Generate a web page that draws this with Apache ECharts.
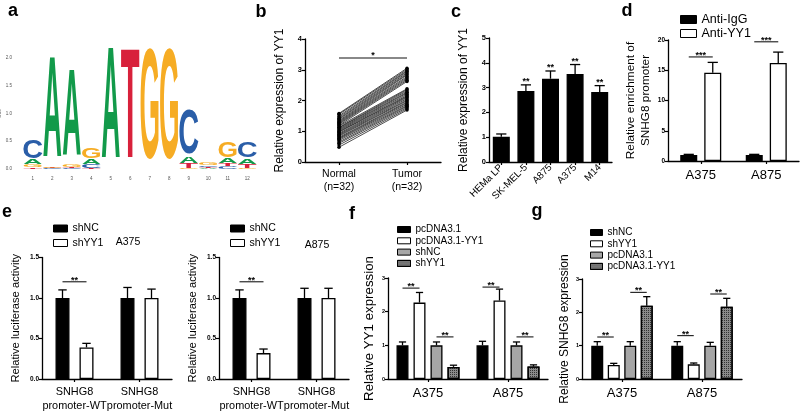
<!DOCTYPE html>
<html><head><meta charset="utf-8">
<script src="https://cdn.jsdelivr.net/npm/echarts@6/dist/echarts.min.js"></script>
<style>html,body{margin:0;padding:0;background:#fff}#c{width:800px;height:412px}</style>
</head><body><div id="c"></div>
<script>
// ---------------- data ----------------
// a: sequence logo (bits per letter at each position)
const logoPositions = ['1','2','3','4','5','6','7','8','9','10','11','12'];
const logoA = [0.08, 1.80, 1.55, 0.10, 1.98, 0.00, 0.00, 0.00, 0.11, 0.01, 0.09, 0.10];
const logoC = [0.33, 0.01, 0.02, 0.06, 0.00, 0.00, 0.00, 0.00, 0.80, 0.03, 0.05, 0.28];
const logoG = [0.05, 0.03, 0.04, 0.19, 0.00, 0.00, 1.96, 1.96, 0.01, 0.04, 0.27, 0.02];
const logoT = [0.03, 0.01, 0.02, 0.02, 0.00, 1.96, 0.00, 0.00, 0.09, 0.02, 0.05, 0.06];

// b: paired YY1 expression
const groupsB = ['Normal\n(n=32)', 'Tumor\n(n=32)'];
const normalYY1 = [1.58,1.55,1.50,1.46,1.42,1.39,1.35,1.32,1.29,1.26,1.23,1.19,1.17,1.13,1.11,1.08,1.05,1.02,0.99,0.97,0.93,0.90,0.87,0.84,0.80,0.77,0.74,0.70,0.65,0.61,0.55,0.48];
const tumorYY1  = [3.05,3.01,2.97,2.94,2.90,2.86,2.83,2.78,2.74,2.70,2.66,2.62,2.38,2.35,2.31,2.27,2.24,2.20,2.16,2.13,2.10,2.06,2.02,1.99,1.95,1.92,1.88,1.84,1.81,1.77,1.73,1.69];

// c: cell lines
const cellLines = ['HEMa LP', 'SK-MEL-5', 'A875', 'A375', 'M14'];
const cellYY1 = [1.02, 2.86, 3.36, 3.55, 2.82];
const cellYY1Err = [0.11, 0.25, 0.31, 0.38, 0.26];

// d: ChIP
const chipCells = ['A375', 'A875'];
const antiIgG = [1.0, 1.0];
const antiIgGErr = [0.1, 0.1];
const antiYY1 = [14.6, 16.2];
const antiYY1Err = [1.7, 1.8];

// e: luciferase
const lucCats = ['SNHG8\npromoter-WT', 'SNHG8\npromoter-Mut'];
const lucA375shNC = [1.0, 1.0];
const lucA375shNCErr = [0.10, 0.13];
const lucA375shYY1 = [0.39, 1.0];
const lucA375shYY1Err = [0.05, 0.11];
const lucA875shNC = [1.0, 1.0];
const lucA875shNCErr = [0.10, 0.12];
const lucA875shYY1 = [0.32, 1.0];
const lucA875shYY1Err = [0.05, 0.12];

// f: YY1 expression
const fCells = ['A375', 'A875'];
const fPc = [1.0, 1.0];       const fPcErr = [0.10, 0.12];
const fPcYY1 = [2.27, 2.33];  const fPcYY1Err = [0.30, 0.34];
const fShNC = [1.0, 1.0];     const fShNCErr = [0.10, 0.10];
const fShYY1 = [0.36, 0.37];  const fShYY1Err = [0.05, 0.05];

// g: SNHG8 expression
const gCells = ['A375', 'A875'];
const gShNC = [1.0, 1.0];     const gShNCErr = [0.12, 0.12];
const gShYY1 = [0.42, 0.44];  const gShYY1Err = [0.05, 0.04];
const gPc = [1.0, 1.0];       const gPcErr = [0.12, 0.10];
const gPcYY1 = [2.20, 2.17];  const gPcYY1Err = [0.27, 0.25];

// significance: [catA, barA, catB, barB, y, text]
const sigB = [[0, 0, 1, 0, 3.38, '*']];
const sigD = [[0, 0, 0, 1, 17.2, '***'], [1, 0, 1, 1, 19.7, '***']];
const sigE1 = [[0, 0, 0, 1, 1.2, '**']];
const sigE2 = [[0, 0, 0, 1, 1.2, '**']];
const sigF = [[0, 0, 0, 1, 2.7, '**'], [0, 2, 0, 3, 1.25, '**'], [1, 0, 1, 1, 2.73, '**'], [1, 2, 1, 3, 1.25, '**']];
const sigG = [[0, 0, 0, 1, 1.26, '**'], [0, 2, 0, 3, 2.6, '**'], [1, 0, 1, 1, 1.3, '**'], [1, 2, 1, 3, 2.55, '**']];
const starsC = ['', '**', '**', '**', '**'];

// ---------------- styles ----------------
const SANS = "'Liberation Sans',Arial,sans-serif";
const LOGO_COLORS = {A: '#129a4a', C: '#2a5ea8', G: '#f6ac24', T: '#d8213b'};
const INK = {A: 0.70, C: 0.64, G: 0.70, T: 0.60};
const CAP = 0.70;
const PATTERN = {symbol: 'rect', symbolSize: 1, dashArrayX: [1, 1], dashArrayY: [1, 1], color: '#333'};

const grids = [
  {left: 23, top: 58, width: 234, height: 111},     // a
  {left: 305, top: 39, width: 136, height: 123},    // b
  {left: 489, top: 38, width: 123, height: 124},    // c
  {left: 668, top: 40, width: 131, height: 121},    // d
  {left: 42, top: 257.5, width: 130, height: 121.5},// e1
  {left: 219, top: 257.5, width: 130, height: 121.5},// e2
  {left: 388, top: 278, width: 160, height: 101},   // f
  {left: 582, top: 279, width: 160, height: 100}    // g
].map(g => Object.assign({containLabel: false, outerBoundsMode: 'none'}, g));

const AX_LINE = {show: true, lineStyle: {color: '#000', width: 1.3}};
function yVal(gi, min, max, interval, name, nameGap, nameSize, labelSize, fmt, extra) {
  return Object.assign({
    type: 'value', gridIndex: gi, min, max, interval,
    axisLine: AX_LINE,
    axisTick: {show: true, length: 3, lineStyle: {color: '#000', width: 1.2}},
    axisLabel: {fontSize: labelSize, fontWeight: 'bold', color: '#000', margin: 3, fontFamily: SANS, formatter: fmt},
    splitLine: {show: false},
    name, nameLocation: 'middle', nameRotate: 90, nameGap,
    nameTextStyle: {fontSize: nameSize, fontFamily: SANS, color: '#000', lineHeight: nameSize + 3.5}
  }, extra || {});
}
function xCat(gi, data, labelSize, margin, extra) {
  return Object.assign({
    type: 'category', gridIndex: gi, data,
    axisLine: AX_LINE,
    axisTick: {show: true, alignWithLabel: true, length: 3, lineStyle: {color: '#000', width: 1.2}},
    axisLabel: {fontSize: labelSize, color: '#000', margin, fontFamily: SANS, interval: 0, lineHeight: labelSize + 3},
    splitLine: {show: false}
  }, extra || {});
}

function bars(name, gi, data, color, bw, gapPx, decal) {
  const s = {
    type: 'bar', name, xAxisIndex: gi, yAxisIndex: gi, data,
    barWidth: bw, barGap: (gapPx / bw * 100) + '%',
    itemStyle: {color, borderColor: '#000', borderWidth: 1.3},
    silent: true, z: 2
  };
  if (decal) s.itemStyle.decal = decal;
  return s;
}
function errBars(gi, means, errs, idx, n, bw, gapPx) {
  return {
    type: 'custom', xAxisIndex: gi, yAxisIndex: gi, silent: true, z: 3,
    data: means.map((m, i) => [i, m, m + errs[i]]),
    renderItem(params, api) {
      const c = api.value(0);
      const p0 = api.coord([c, api.value(1)]);
      const p1 = api.coord([c, api.value(2)]);
      const x = p0[0] + (idx - (n - 1) / 2) * (bw + gapPx);
      const cap = bw * 0.6;
      return {type: 'group', children: [
        {type: 'line', shape: {x1: x, y1: p0[1], x2: x, y2: p1[1]}, style: {stroke: '#000', lineWidth: 1.3}},
        {type: 'line', shape: {x1: x - cap / 2, y1: p1[1], x2: x + cap / 2, y2: p1[1]}, style: {stroke: '#000', lineWidth: 1.3}}
      ]};
    }
  };
}
function sig(gi, items, n, bw, gapPx, opt) {
  opt = opt || {};
  return {
    type: 'custom', xAxisIndex: gi, yAxisIndex: gi, silent: true, z: 5,
    data: items.map(it => [it[0], it[4]]),
    renderItem(params, api) {
      const it = items[params.dataIndex];
      const step = bw + gapPx;
      const pa = api.coord([it[0], it[4]]);
      const pb = api.coord([it[2], it[4]]);
      const xa = pa[0] + (it[1] - (n - 1) / 2) * step - (opt.ext || 0);
      const xb = pb[0] + (it[3] - (n - 1) / 2) * step + (opt.ext || 0);
      return {type: 'group', children: [
        {type: 'line', shape: {x1: xa, y1: pa[1], x2: xb, y2: pa[1]}, style: {stroke: opt.color || '#000', lineWidth: opt.lw || 1}},
        {type: 'text', style: {text: it[5], x: (xa + xb) / 2, y: pa[1] + (opt.dy || 3), textAlign: 'center', textVerticalAlign: 'bottom', align: 'center', verticalAlign: 'bottom', font: 'bold ' + (opt.size || 9) + 'px ' + SANS, fill: '#000'}}
      ]};
    }
  };
}
function starText(gi, tops, texts) {
  return {
    type: 'custom', xAxisIndex: gi, yAxisIndex: gi, silent: true, z: 5,
    data: tops.map((t, i) => [i, t]),
    renderItem(params, api) {
      const p = api.coord([api.value(0), api.value(1)]);
      return {type: 'text', style: {text: texts[params.dataIndex], x: p[0], y: p[1] + 1, textAlign: 'center', textVerticalAlign: 'bottom', align: 'center', verticalAlign: 'bottom', font: 'bold 9px ' + SANS, fill: '#000'}};
    }
  };
}

// ----- logo items (stack letters smallest at bottom) -----
const logoItems = [];
logoPositions.forEach((p, i) => {
  const ls = [['A', logoA[i]], ['C', logoC[i]], ['G', logoG[i]], ['T', logoT[i]]].sort((a, b) => a[1] - b[1]);
  let base = 0;
  ls.forEach(([L, h]) => { if (h > 0) logoItems.push([i, base, h, L]); base += h; });
});
const logoSeries = {
  type: 'custom', xAxisIndex: 0, yAxisIndex: 0, silent: true,
  data: logoItems.map(it => [it[0], it[1] + it[2]]),
  renderItem(params, api) {
    const [ci, base, h, L] = logoItems[params.dataIndex];
    const bw = api.size([1, 0])[0] * 0.95;
    const c0 = api.coord([ci, base]);
    const c1 = api.coord([ci, base + h]);
    const hp = c0[1] - c1[1];
    if (hp < 0.3) return null;
    const F = 100;
    return {
      type: 'text', x: c0[0], y: (c0[1] + c1[1]) / 2,
      scaleX: bw / (INK[L] * F), scaleY: hp / (CAP * F),
      style: {text: L, x: 0, y: 0, font: 'bold ' + F + 'px ' + SANS, fill: LOGO_COLORS[L],
              textAlign: 'center', textVerticalAlign: 'middle', align: 'center', verticalAlign: 'middle'}
    };
  }
};

// ----- b paired lines -----
const pairSeries = normalYY1.map((v, i) => ({
  type: 'line', xAxisIndex: 1, yAxisIndex: 1, data: [v, tumorYY1[i]],
  symbol: 'circle', symbolSize: 3.5, itemStyle: {color: '#000'},
  lineStyle: {color: '#000', width: 0.7}, silent: true, z: 3
}));

const xAxes = [
  Object.assign(xCat(0, logoPositions, 4.5, 6), {axisLine: {show: false}, axisTick: {show: false},
    axisLabel: {fontSize: 4.5, color: '#555', margin: 7, fontFamily: SANS, interval: 0}}),
  xCat(1, groupsB, 10.5, 5),
  xCat(2, cellLines, 9.8, 4, {axisLabel: {fontSize: 9.8, color: '#000', margin: 4, fontFamily: SANS, interval: 0, rotate: 45}}),
  xCat(3, chipCells, 13, 6),
  xCat(4, lucCats, 10.9, 6),
  xCat(5, lucCats, 10.9, 6),
  xCat(6, fCells, 13, 6),
  xCat(7, gCells, 13, 6)
];
const f1 = v => v.toFixed(1);
const yAxes = [
  yVal(0, 0, 2, 0.5, 'Bits', 9, 4.5, 4.5, f1, {axisLine: {show: false}, axisTick: {show: false}, offset: 8,
    axisLabel: {fontSize: 4.5, color: '#555', margin: 3, fontFamily: SANS, formatter: f1},
    nameTextStyle: {fontSize: 5, color: '#555', fontFamily: SANS}}),
  yVal(1, 0, 4, 1, 'Relative expression of YY1', 18, 12, 7.5),
  yVal(2, 0, 5, 1, 'Relative expression of YY1', 18, 12, 7.5),
  yVal(3, 0, 20, 5, 'Relative enrichment of\nSNHG8 promoter', 14, 11.8, 6.5),
  yVal(4, 0, 1.5, 0.5, 'Relative luciferase activity', 19, 11.2, 6.5, f1),
  yVal(5, 0, 1.5, 0.5, 'Relative luciferase activity', 19, 11.2, 6.5, f1),
  yVal(6, 0, 3, 1, 'Relative YY1 expression', 9, 13.3, 5.5),
  yVal(7, 0, 3, 1, 'Relative SNHG8 expression', 9, 12, 5.5)
];

const series = [logoSeries].concat(pairSeries, [
  sig(1, sigB, 1, 0, 0, {color: '#888', lw: 2, dy: 2, size: 9}),
  // c
  bars('cells', 2, cellYY1, '#000', 17, 0),
  errBars(2, cellYY1, cellYY1Err, 0, 1, 17, 0),
  starText(2, cellYY1.map((m, i) => m + cellYY1Err[i]), starsC),
  // d
  bars('Anti-IgG', 3, antiIgG, '#000', 17, 7),
  bars('Anti-YY1', 3, antiYY1, '#fff', 17, 7),
  errBars(3, antiIgG, antiIgGErr, 0, 2, 17, 7),
  errBars(3, antiYY1, antiYY1Err, 1, 2, 17, 7),
  sig(3, sigD, 2, 17, 7),
  // e1
  bars('shNC', 4, lucA375shNC, '#000', 14, 10),
  bars('shYY1', 4, lucA375shYY1, '#fff', 14, 10),
  errBars(4, lucA375shNC, lucA375shNCErr, 0, 2, 14, 10),
  errBars(4, lucA375shYY1, lucA375shYY1Err, 1, 2, 14, 10),
  sig(4, sigE1, 2, 14, 10),
  // e2
  bars('shNC', 5, lucA875shNC, '#000', 14, 10),
  bars('shYY1', 5, lucA875shYY1, '#fff', 14, 10),
  errBars(5, lucA875shNC, lucA875shNCErr, 0, 2, 14, 10),
  errBars(5, lucA875shYY1, lucA875shYY1Err, 1, 2, 14, 10),
  sig(5, sigE2, 2, 14, 10),
  // f
  bars('pcDNA3.1', 6, fPc, '#000', 12, 5),
  bars('pcDNA3.1-YY1', 6, fPcYY1, '#fff', 12, 5),
  bars('shNC', 6, fShNC, '#a6a6a6', 12, 5),
  bars('shYY1', 6, fShYY1, '#8a8a8a', 12, 5, PATTERN),
  errBars(6, fPc, fPcErr, 0, 4, 12, 5),
  errBars(6, fPcYY1, fPcYY1Err, 1, 4, 12, 5),
  errBars(6, fShNC, fShNCErr, 2, 4, 12, 5),
  errBars(6, fShYY1, fShYY1Err, 3, 4, 12, 5),
  sig(6, sigF, 4, 12, 5),
  // g
  bars('shNC', 7, gShNC, '#000', 12, 4.5),
  bars('shYY1', 7, gShYY1, '#fff', 12, 4.5),
  bars('pcDNA3.1', 7, gPc, '#a6a6a6', 12, 4.5),
  bars('pcDNA3.1-YY1', 7, gPcYY1, '#8a8a8a', 12, 4.5, PATTERN),
  errBars(7, gShNC, gShNCErr, 0, 4, 12, 4.5),
  errBars(7, gShYY1, gShYY1Err, 1, 4, 12, 4.5),
  errBars(7, gPc, gPcErr, 2, 4, 12, 4.5),
  errBars(7, gPcYY1, gPcYY1Err, 3, 4, 12, 4.5),
  sig(7, sigG, 4, 12, 4.5)
]);

function legend(left, top, items, fontSize, gap, iw, ih) {
  return {
    show: true, orient: 'vertical', left, top, padding: 0, itemGap: gap,
    itemWidth: iw, itemHeight: ih, icon: 'rect', selectedMode: false,
    textStyle: {fontSize, fontFamily: SANS, color: '#000', lineHeight: fontSize},
    data: items.map(([name, color, decal]) => ({name, itemStyle: Object.assign({color, borderColor: '#000', borderWidth: 1}, decal ? {decal} : {})}))
  };
}
const legends = [
  legend(680, 13, [['Anti-IgG', '#000'], ['Anti-YY1', '#fff']], 12.5, 1, 16, 8),
  legend(53, 223, [['shNC', '#000'], ['shYY1', '#fff']], 10.5, 3.5, 14, 7),
  legend(230, 223, [['shNC', '#000'], ['shYY1', '#fff']], 10.5, 3.5, 14, 7),
  legend(397, 224.5, [['pcDNA3.1', '#000'], ['pcDNA3.1-YY1', '#fff'], ['shNC', '#a6a6a6'], ['shYY1', '#8a8a8a', PATTERN]], 10, 1.3, 13, 6),
  legend(590, 227.5, [['shNC', '#000'], ['shYY1', '#fff'], ['pcDNA3.1', '#a6a6a6'], ['pcDNA3.1-YY1', '#8a8a8a', PATTERN]], 10, 1.3, 12, 6)
];

function ptext(t, x, y, size, bold) {
  return {type: 'text', x, y, silent: true, style: {text: t, fill: '#000', font: (bold ? 'bold ' : '') + size + 'px ' + SANS, textAlign: 'center', textVerticalAlign: 'middle', align: 'center', verticalAlign: 'middle'}};
}
const graphics = [
  ptext('a', 13, 10.8, 18, true), ptext('b', 261, 11.8, 18, true), ptext('c', 456, 11.8, 18, true),
  ptext('d', 627, 10.8, 18, true), ptext('e', 7, 211.8, 18, true), ptext('f', 352, 213.8, 18, true),
  ptext('g', 537, 210.8, 18, true),
  ptext('A375', 128, 242, 10.5, false), ptext('A875', 317, 245, 10.5, false)
];

const chart = echarts.init(document.getElementById('c'), null, {renderer: 'canvas'});
chart.setOption({
  animation: false,
  backgroundColor: '#fff',
  grid: grids, xAxis: xAxes, yAxis: yAxes, series, legend: legends,
  graphic: graphics
});
</script></body></html>
